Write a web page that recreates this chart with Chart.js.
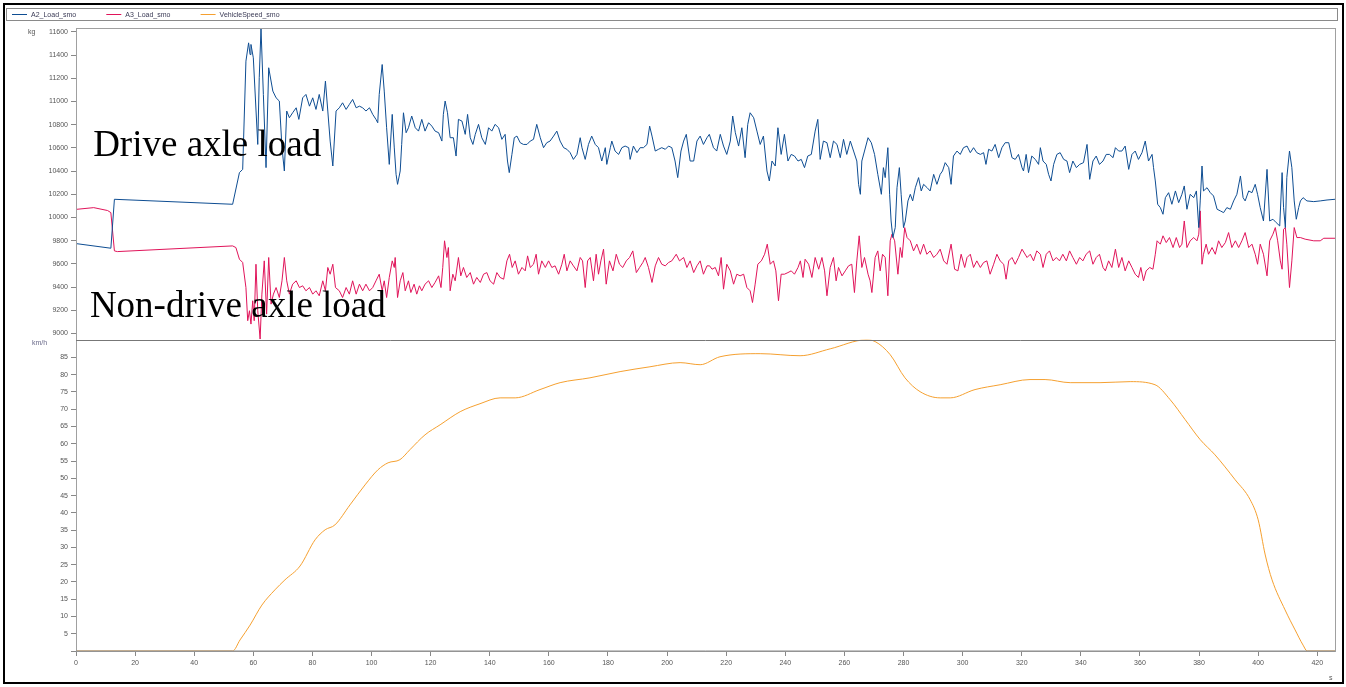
<!DOCTYPE html>
<html>
<head>
<meta charset="utf-8">
<script src="https://cdn.jsdelivr.net/npm/chart.js@4.4.1/dist/chart.umd.min.js"></script>
<style>
  body { margin: 0; background: #fff; }
  canvas { display: block; }
</style>
</head>
<body>
<canvas id="myChart" width="1346" height="687"></canvas>
<script>
// time (s) and load (kg) for drive axle A2
const a2Time = [0,11.8,13.0,53.0,55.3,56.4,57.5,58.4,58.9,59.2,60.0,61.5,62.0,62.6,63.4,64.3,65.2,66.6,67.7,68.8,69.7,70.5,71.3,72.2,73.3,74.5,75.4,76.7,77.8,79.0,80.1,81.2,82.3,83.5,84.4,85.2,86.0,86.9,88.0,89.1,90.2,91.4,92.5,93.6,94.8,95.9,97.0,98.1,99.3,100.4,101.5,102.1,102.6,103.6,104.3,105.1,106.0,107.0,107.7,108.3,108.8,109.7,110.2,110.8,111.7,112.5,113.6,114.8,115.9,117.0,118.1,119.3,120.4,121.5,122.7,123.8,124.3,124.9,125.7,126.6,127.7,128.6,129.4,130.6,131.7,132.5,133.4,134.3,135.1,136.2,137.3,138.5,139.6,140.7,141.8,143.0,144.1,145.2,146.0,146.6,147.5,148.3,149.2,150.3,151.4,152.6,153.7,154.8,155.9,157.1,158.2,159.3,160.4,161.6,162.7,163.8,165.0,166.1,167.2,168.3,169.5,170.6,171.2,172.3,173.4,174.5,175.7,176.8,177.9,179.1,179.6,180.8,181.3,182.4,183.6,184.7,185.8,187.0,187.5,188.6,189.8,190.9,192.0,193.2,194.1,194.9,196.0,197.1,198.2,199.4,200.5,201.6,202.7,203.6,204.7,205.6,206.5,207.3,207.8,209.0,210.1,211.2,212.3,213.5,214.3,215.7,216.8,218.0,219.1,220.2,221.4,222.2,223.1,224.2,225.3,226.4,227.3,228.1,229.3,230.4,231.5,232.6,233.8,234.6,235.5,236.6,237.5,238.6,239.7,240.9,242.0,243.1,244.3,245.4,246.5,247.6,248.8,250.1,251.0,251.8,252.9,254.1,255.2,256.3,257.5,258.6,259.7,260.8,262.0,263.1,264.2,264.8,265.4,265.9,266.8,268.0,269.1,270.2,271.3,272.5,273.2,273.8,274.7,275.3,275.8,276.4,277.2,277.8,278.6,279.2,280.0,280.6,281.5,282.3,283.1,284.0,285.1,286.0,286.8,288.0,289.0,290.2,291.3,292.4,293.2,294.1,295.3,296.1,296.9,298.1,299.2,300.3,301.5,302.6,303.7,304.8,306.0,307.1,307.9,308.8,309.9,311.0,312.2,313.3,314.4,315.6,316.7,317.8,318.9,320.1,320.6,321.5,322.3,323.4,324.6,325.7,326.3,327.2,328.3,329.1,329.9,330.8,331.9,333.0,334.2,335.3,336.2,337.3,338.5,339.6,340.9,342.1,343.0,344.1,345.2,346.3,347.5,348.6,349.7,350.9,351.7,352.8,353.9,355.0,356.2,357.3,358.4,359.5,360.7,361.8,362.9,364.1,364.6,365.2,366.0,366.9,367.8,368.6,369.7,370.8,372.0,373.1,374.2,375.0,375.9,377.0,378.2,379.1,379.9,380.4,381.0,381.5,382.7,383.8,384.9,386.1,387.2,388.3,389.4,390.6,391.7,392.8,394.0,394.9,395.6,396.8,397.9,399.0,399.8,400.7,401.8,403.0,403.9,405.0,406.1,407.3,408.1,408.6,409.2,409.7,410.6,411.4,412.2,412.9,413.7,414.3,415.2,416.5,418.8,421.0,423.3,426.0];
const a2Load = [9775,9735,10157,10114,10387,10415,11348,11506,11405,11492,11377,10630,11205,11630,11061,10430,11291,11090,11032,11004,10602,10401,10918,10860,10903,10946,10846,11032,11061,10960,11032,10932,11061,10918,11176,10918,10659,10444,10918,10946,10989,10932,10975,11018,10946,10960,10946,10918,10946,10889,10846,10817,11061,11319,11090,10774,10458,10889,10600,10372,10286,10401,10630,10903,10731,10774,10875,10774,10745,10846,10745,10817,10788,10745,10731,10659,10889,11004,10903,10688,10688,10530,10846,10831,10717,10889,10688,10630,10717,10803,10688,10630,10774,10745,10803,10774,10674,10717,10487,10387,10544,10688,10702,10645,10630,10630,10659,10674,10803,10688,10602,10645,10659,10702,10745,10659,10602,10588,10559,10501,10544,10688,10602,10501,10630,10702,10630,10602,10487,10602,10458,10602,10659,10573,10544,10602,10616,10602,10501,10616,10559,10602,10602,10630,10788,10702,10573,10588,10602,10588,10616,10602,10487,10344,10573,10659,10717,10573,10487,10487,10659,10702,10630,10688,10717,10602,10573,10717,10616,10544,10659,10875,10731,10616,10774,10516,10803,10903,10860,10745,10630,10702,10401,10315,10487,10444,10774,10544,10717,10487,10544,10530,10487,10501,10430,10530,10544,10745,10846,10501,10659,10645,10516,10659,10630,10516,10674,10544,10659,10573,10487,10286,10200,10487,10573,10688,10645,10544,10372,10200,10430,10344,10602,10200,9970,9827,9913,10257,10430,10200,9913,9970,10143,10200,10143,10257,10344,10229,10286,10257,10229,10372,10286,10372,10401,10473,10430,10286,10530,10573,10544,10602,10616,10559,10602,10559,10544,10559,10458,10588,10573,10630,10516,10602,10645,10645,10516,10501,10544,10430,10401,10544,10387,10530,10501,10458,10602,10487,10458,10372,10315,10458,10544,10559,10501,10487,10387,10487,10430,10458,10473,10630,10329,10487,10530,10458,10487,10544,10544,10516,10602,10573,10573,10616,10415,10544,10573,10501,10559,10659,10487,10544,10430,10315,10114,10085,10028,10171,10214,10114,10229,10128,10200,10272,10071,10200,10171,10229,9913,10143,10444,10229,10257,10214,10186,10071,10057,10042,10085,10071,10143,10200,10358,10171,10143,10229,10214,10286,10200,10085,9970,10415,9970,9985,9956,9927,10387,10085,9913,10344,10573,10430,10143,9985,10085,10143,10171,10143,10137,10143,10151,10157];

// time (s) and load (kg) for non-drive axle A3
const a3Time = [0,6.0,10.7,11.8,13.0,14.0,53.0,54.1,55.3,56.4,57.5,58.1,58.7,59.2,59.8,60.3,60.9,61.5,62.3,62.9,63.7,64.5,65.2,66.0,66.8,67.7,68.8,69.7,70.5,71.3,72.2,73.3,74.5,75.6,76.7,77.8,79.0,80.1,81.2,82.3,83.5,84.4,85.2,86.0,86.9,87.8,89.1,90.2,91.4,92.5,93.6,94.8,95.9,97.0,98.1,99.3,100.4,101.5,102.6,103.6,104.3,105.1,106.0,107.0,107.7,108.0,108.8,109.7,110.6,111.4,112.5,113.3,114.4,115.3,116.2,117.0,118.1,119.3,120.4,121.5,122.7,123.5,124.1,124.7,125.5,126.0,126.6,127.5,128.3,129.4,130.2,131.1,132.2,133.4,134.5,135.6,136.8,137.9,139.0,140.1,141.3,142.4,143.5,144.7,145.8,146.7,147.6,148.6,149.7,150.9,152.0,152.8,153.7,154.8,155.7,156.5,157.6,158.8,159.9,161.0,162.1,163.3,164.4,165.2,166.1,167.2,168.3,169.5,170.6,171.4,172.3,173.1,174.0,175.1,176.0,176.8,177.6,178.5,179.4,180.5,181.7,182.8,183.9,185.0,186.2,187.3,188.4,189.6,190.7,191.8,192.6,193.7,194.9,196.0,197.1,198.2,199.4,200.5,201.6,203.1,204.2,205.6,206.7,207.8,209.0,210.1,211.2,212.3,213.5,214.4,215.2,216.3,217.4,218.3,219.1,220.2,221.4,222.5,223.6,224.7,225.9,227.0,228.1,228.9,229.8,230.7,231.9,233.0,233.9,234.9,236.0,236.8,237.7,238.6,239.7,240.9,242.0,243.1,244.3,245.1,246.0,246.7,247.9,249.0,250.1,251.3,252.4,253.3,254.1,255.2,256.3,257.2,258.0,259.2,260.3,261.4,262.5,263.4,264.2,265.0,265.9,266.8,268.0,268.7,269.3,270.4,271.3,272.1,272.9,273.8,274.7,275.5,276.1,277.0,278.1,278.9,279.5,280.4,281.2,282.3,283.4,284.5,285.7,286.8,287.9,289.0,290.2,291.3,292.4,293.6,294.7,296.1,297.3,298.4,299.5,300.7,301.5,302.6,303.7,304.8,306.0,307.1,308.2,309.3,310.5,311.6,312.7,313.9,314.7,315.6,316.7,317.8,318.9,320.1,321.8,322.9,324.0,325.1,326.3,327.2,328.3,329.4,330.6,331.7,332.8,333.9,335.1,336.2,337.3,338.5,339.6,340.7,341.8,343.0,344.1,345.2,346.3,347.5,348.3,349.4,350.5,351.7,352.8,353.9,355.0,356.2,357.3,358.4,359.5,360.3,361.2,362.1,363.3,364.4,365.2,365.8,366.9,367.8,368.9,370.0,371.2,372.3,373.4,374.2,375.0,375.9,377.0,378.2,379.3,379.9,380.4,381.0,381.5,382.4,383.2,384.4,385.5,386.6,387.7,388.9,390.0,391.1,392.3,393.4,394.5,395.6,396.8,397.9,399.0,399.8,400.7,401.8,403.0,403.9,405.0,405.8,406.6,407.5,408.1,408.6,409.2,409.7,410.6,411.4,412.2,413.1,414.3,415.9,418.8,421.0,422.2,426.0];
const a3Load = [10070,10085,10060,10042,9712,9706,9755,9741,9640,9612,9396,9110,9196,9081,9282,9110,9597,9196,8952,9339,9626,9167,9655,9253,9339,9396,9310,9454,9655,9454,9339,9425,9454,9396,9411,9368,9396,9339,9368,9325,9454,9368,9569,9511,9597,9396,9368,9310,9396,9339,9454,9339,9425,9368,9425,9368,9396,9454,9511,9368,9454,9310,9483,9626,9569,9655,9310,9454,9525,9368,9454,9353,9425,9339,9411,9368,9425,9454,9396,9440,9497,9396,9569,9799,9655,9741,9368,9511,9454,9655,9497,9569,9483,9525,9425,9483,9440,9511,9525,9454,9425,9525,9483,9468,9626,9683,9569,9626,9511,9569,9540,9669,9569,9597,9683,9511,9626,9569,9626,9569,9583,9511,9597,9683,9540,9626,9583,9540,9655,9626,9396,9626,9655,9454,9683,9511,9626,9727,9425,9626,9540,9683,9597,9569,9626,9655,9712,9525,9569,9612,9655,9569,9440,9583,9655,9597,9583,9612,9626,9683,9626,9655,9569,9626,9525,9583,9626,9511,9583,9583,9554,9569,9497,9655,9382,9597,9540,9425,9511,9497,9511,9396,9368,9267,9425,9597,9626,9683,9770,9597,9626,9540,9282,9511,9511,9525,9540,9511,9569,9626,9483,9640,9597,9483,9655,9554,9655,9540,9325,9569,9655,9454,9569,9497,9540,9583,9597,9353,9626,9842,9569,9655,9511,9454,9353,9655,9712,9540,9683,9655,9325,9799,9856,9799,9511,9741,9655,9913,9827,9799,9712,9770,9683,9770,9683,9712,9655,9683,9727,9626,9597,9770,9554,9540,9683,9569,9655,9683,9569,9626,9569,9612,9626,9511,9597,9683,9626,9597,9468,9626,9655,9597,9655,9727,9655,9683,9626,9712,9683,9569,9683,9712,9626,9655,9626,9683,9626,9712,9655,9597,9655,9626,9683,9712,9597,9655,9683,9569,9540,9626,9569,9727,9569,9655,9540,9626,9569,9511,9483,9569,9454,9540,9569,9554,9683,9799,9770,9842,9784,9827,9741,9827,9741,9770,9970,9741,9799,9827,9799,9856,10057,9597,9683,9770,9683,9741,9683,9799,9741,9784,9870,9741,9799,9741,9799,9870,9741,9770,9683,9597,9770,9683,9497,9799,9856,9913,9799,9626,9554,9899,9913,9770,9396,9626,9913,9827,9827,9813,9799,9799,9821,9821];

// time (s) and vehicle speed (km/h)
const speedTime = [0,53,55.5,58.9,62.9,67.3,70.7,75.8,80.9,84.3,87.6,92.7,97.8,102.2,105.6,109.6,113,118.1,123.2,130,136.7,143.5,148.6,157,163.8,173.9,184.1,194.2,204.4,211.2,217.9,231.5,245,255.2,267.3,270.4,275.5,280.5,285.6,292.4,295.8,304.2,312.7,322.8,327.9,336.4,346.5,356.7,365.1,370.2,375.3,380.4,385.4,392.2,397.3,400,402.4,404.7,409.1,412.5,415.2,416.6,426];
const speedKmh = [0,0,3.2,7.5,13.3,17.7,20.6,24.6,32.2,35.1,36.5,42.3,48.1,52.5,54.5,55.4,58.3,62.6,65.5,69.3,71.6,73.3,73.3,75.7,77.7,79.1,80.9,82.3,83.5,82.9,85.2,86.1,85.5,87.5,90.1,89.6,85.8,79.1,75.1,73.3,73.3,75.7,77.1,78.6,78.6,77.7,77.7,78.0,77.1,72.8,67,61.2,56.8,49.6,43.8,38,27.8,20.6,11.9,6.1,1.7,0,0];

const seriesNames = ['A2_Load_smo', 'A3_Load_smo', 'VehicleSpeed_smo'];
const seriesColors = ['#0e4d92', '#e0145a', '#f5a030'];

function pairs(xs, ys) {
    return xs.map((x, i) => ({x: x, y: ys[i]}));
}

Chart.defaults.font.family = '"Liberation Sans", Arial, sans-serif';

const frame = {
    id: 'frame',
    beforeDraw(chart) {
        const ctx = chart.ctx;
        ctx.save();
        ctx.fillStyle = '#fff';
        ctx.fillRect(0, 0, chart.width, chart.height);
        // outer black frame
        ctx.strokeStyle = '#000';
        ctx.lineWidth = 2;
        ctx.strokeRect(4, 4, 1339, 679);
        // legend box
        ctx.strokeStyle = '#8a8a8a';
        ctx.lineWidth = 1;
        ctx.strokeRect(6.5, 8.5, 1331, 12);
        ctx.font = '7px "Liberation Sans", Arial';
        ctx.textBaseline = 'middle';
        chart.data.datasets.forEach((ds, i) => {
            const x0 = 12 + i * 94.3;
            ctx.strokeStyle = ds.borderColor;
            ctx.beginPath();
            ctx.moveTo(x0, 14.5);
            ctx.lineTo(x0 + 15, 14.5);
            ctx.stroke();
            ctx.fillStyle = '#3a3a55';
            ctx.fillText(ds.label, x0 + 19, 15);
        });
        ctx.restore();
    },
    afterDatasetsDraw(chart) {
        const ctx = chart.ctx;
        const a = chart.chartArea;
        const yl = chart.scales.yLoad;
        const xs = chart.scales.x;
        ctx.save();
        ctx.strokeStyle = '#a0a0a0';
        ctx.lineWidth = 1;
        ctx.strokeRect(a.left + 0.5, a.top + 0.5, a.right - a.left, a.bottom - a.top);
        // x axis line drawn over the zero-speed stretch
        ctx.strokeStyle = '#888';
        ctx.beginPath();
        ctx.moveTo(a.left, a.bottom);
        ctx.lineTo(a.right, a.bottom);
        ctx.stroke();
        ctx.strokeStyle = '#777';
        ctx.beginPath();
        ctx.moveTo(a.left, Math.round(yl.bottom) + 0.5);
        ctx.lineTo(a.right, Math.round(yl.bottom) + 0.5);
        ctx.stroke();
        // annotations
        ctx.fillStyle = '#000';
        ctx.font = '37px "Liberation Serif", "Times New Roman", serif';
        ctx.textBaseline = 'alphabetic';
        ctx.fillText('Drive axle load', xs.getPixelForValue(5.8), yl.getPixelForValue(10530));
        ctx.fillText('Non-drive axle load', xs.getPixelForValue(4.7), yl.getPixelForValue(9140));
        // units
        ctx.font = '7px "Liberation Sans", Arial';
        ctx.textBaseline = 'middle';
        ctx.fillStyle = '#555';
        ctx.fillText('kg', 28, yl.getPixelForValue(11600));
        ctx.fillStyle = '#6a6a8a';
        ctx.fillText('km/h', 32, chart.scales.ySpeed.top + 4);
        ctx.fillStyle = '#555';
        ctx.fillText('s', 1329, 678);
        ctx.restore();
    }
};

const tickFont = {size: 7};
const config = {
    type: 'line',
    data: {
        datasets: [
            {label: seriesNames[0], data: pairs(a2Time, a2Load), yAxisID: 'yLoad',
             borderColor: seriesColors[0], borderWidth: 1, pointRadius: 0, tension: 0},
            {label: seriesNames[1], data: pairs(a3Time, a3Load), yAxisID: 'yLoad',
             borderColor: seriesColors[1], borderWidth: 1, pointRadius: 0, tension: 0},
            {label: seriesNames[2], data: pairs(speedTime, speedKmh), yAxisID: 'ySpeed',
             borderColor: seriesColors[2], borderWidth: 1, pointRadius: 0, cubicInterpolationMode: 'monotone'}
        ]
    },
    options: {
        responsive: false,
        animation: false,
        layout: {padding: {left: 6, right: 11, top: 28, bottom: 6}},
        plugins: {legend: {display: false}, tooltip: {enabled: false}},
        scales: {
            x: {
                type: 'linear', min: 0, max: 426,
                grid: {drawOnChartArea: false, tickLength: 5, color: '#888'},
                border: {color: '#888'},
                ticks: {stepSize: 20, includeBounds: false, autoSkip: false, font: tickFont, color: '#555', padding: 3, maxRotation: 0,
                        callback: v => String(v)},
                afterFit(s) { s.height = 30; }
            },
            ySpeed: {
                type: 'linear', position: 'left', stack: 'panels', stackWeight: 1,
                min: 0, max: 90.2,
                grid: {drawOnChartArea: false, tickLength: 5, color: '#888'},
                border: {color: '#888'},
                ticks: {stepSize: 5, includeBounds: false, autoSkip: false, font: tickFont, color: '#555', padding: 3,
                        callback: v => v === 0 ? '' : String(v)},
                afterBuildTicks(s) { s.ticks = s.ticks.filter(t => t.value <= 85); },
                afterFit(s) { s.width = 70; }
            },
            yLoad: {
                type: 'linear', position: 'left', stack: 'panels', stackWeight: 1,
                min: 8948, max: 11634,
                grid: {drawOnChartArea: false, tickLength: 5, color: '#888'},
                border: {color: '#888'},
                ticks: {stepSize: 200, includeBounds: false, autoSkip: false, font: tickFont, color: '#555', padding: 3,
                        callback: v => String(v)},
                afterFit(s) { s.width = 70; }
            }
        }
    },
    plugins: [frame]
};

const myChart = new Chart(document.getElementById('myChart'), config);
</script>
</body>
</html>
